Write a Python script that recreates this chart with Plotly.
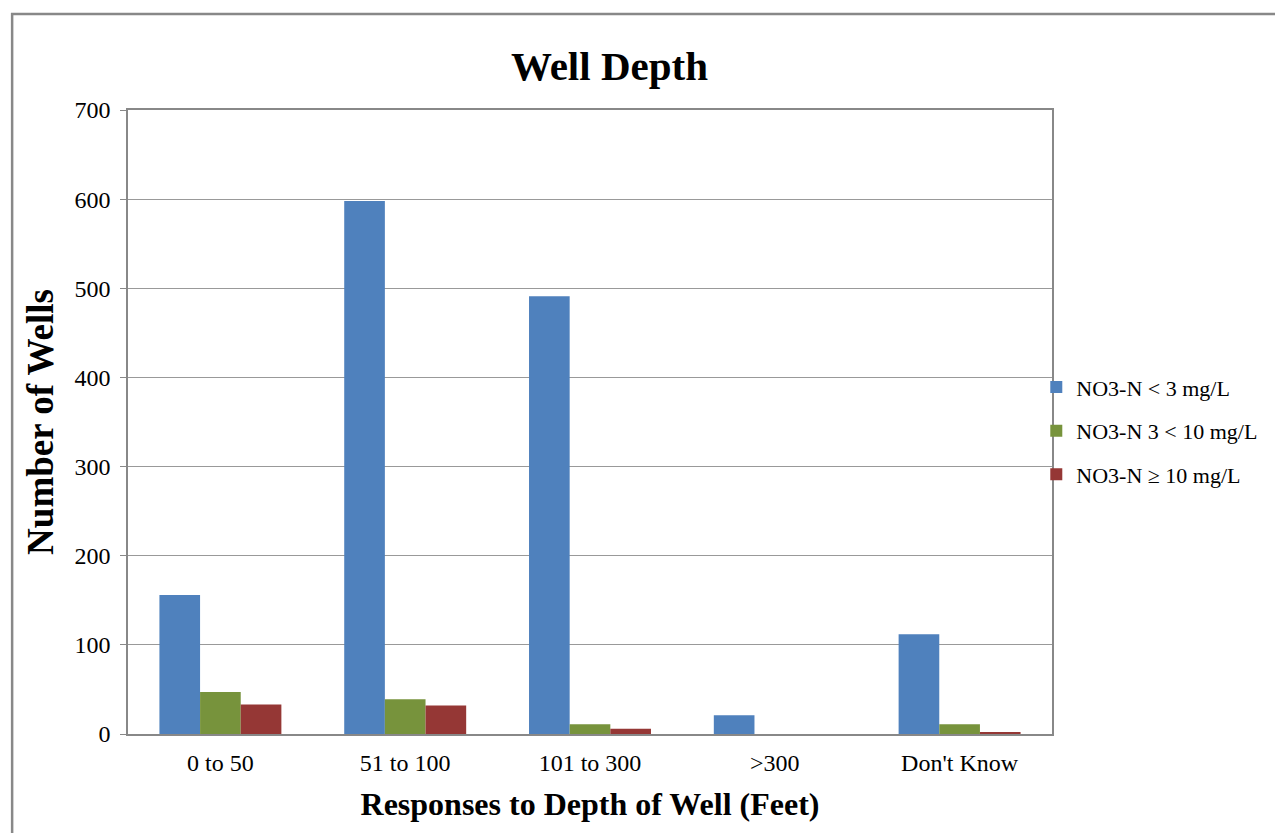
import plotly.graph_objects as go

depths = ["0 to 50", "51 to 100", "101 to 300", ">300", "Don't Know"]
low = [156, 598, 491, 21, 112]
mid = [47, 39, 11, 0, 11]
high = [33, 32, 6, 0, 2]

names = ["NO3-N < 3 mg/L", "NO3-N 3 < 10 mg/L", "NO3-N \u2265 10 mg/L"]
colors = ["#4F81BD", "#77933C", "#953735"]

fig = go.Figure()
for i, (name, vals, col) in enumerate(zip(names, [low, mid, high], colors)):
    fig.add_trace(go.Bar(x=depths, y=vals, name=name, legendgroup=str(i),
                         marker=dict(color=col, line=dict(width=0))))

font = "Liberation Serif, Times New Roman, serif"
fig.update_layout(
    width=1275,
    height=833,
    margin=dict(l=128, r=223, t=110, b=99),
    paper_bgcolor="white",
    plot_bgcolor="white",
    font=dict(family=font, color="black", size=24),
    barmode="group",
    bargap=0.34,
    bargroupgap=0,
    title=dict(text="<b>Well Depth</b>", xref="container", x=0.478, xanchor="center",
               y=0.921, yanchor="middle", font=dict(size=41, family=font)),
    xaxis=dict(
        title=dict(text="<b>Responses to Depth of Well (Feet)</b>", font=dict(size=32), standoff=18),
        showline=True, linecolor="#888888", linewidth=1.5, mirror=True,
        ticks="", tickfont=dict(size=24), ticklabelstandoff=6,
    ),
    yaxis=dict(
        title=dict(text="<b>Number of Wells</b>", font=dict(size=37), standoff=10),
        range=[0, 700], dtick=100,
        showline=True, linecolor="#888888", linewidth=1.5, mirror=True,
        gridcolor="#999999", gridwidth=1,
        ticks="outside", ticklen=6, tickcolor="#888888",
        tickfont=dict(size=24), ticklabelstandoff=5,
    ),
    legend=dict(x=0.983, y=0.486, xanchor="left", yanchor="middle", font=dict(size=22),
                tracegroupgap=12, bgcolor="rgba(0,0,0,0)"),
    showlegend=True,
    shapes=[dict(type="rect", xref="paper", yref="paper", x0=-0.1254, y0=-0.3, x1=1.4, y1=1.1538,
                 line=dict(color="#888888", width=2.5), layer="below")],
)

fig.write_html("out.html", config={"displayModeBar": False},
               post_script="document.body.style.margin='0';")
